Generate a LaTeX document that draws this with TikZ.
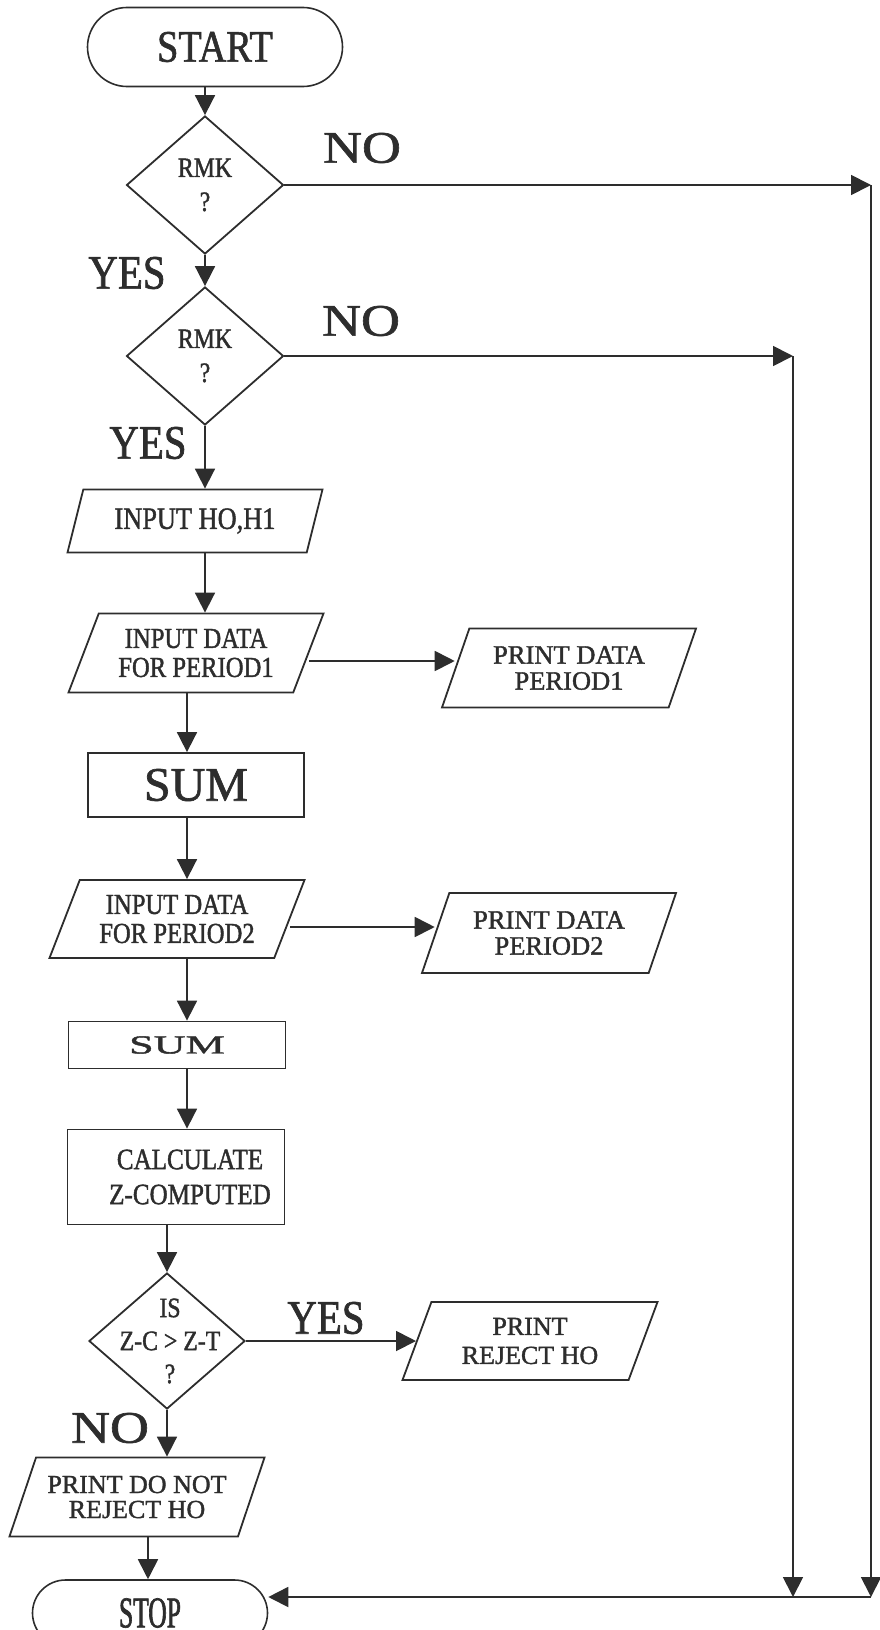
\documentclass[tikz,border=0pt]{standalone}
\usepackage{fontspec}
\setmainfont[FakeBold=1.2,AutoFakeBold=1.2]{Liberation Serif}
\newfontfamily\plainfont[FakeStretch=1.0,FakeBold=1.4]{Liberation Serif}
\newfontfamily\condfont[FakeStretch=0.85,FakeBold=1.4]{Liberation Serif}
\newfontfamily\tallfont[FakeStretch=0.58,FakeBold=1.4]{Liberation Serif}
\newfontfamily\widefont[FakeStretch=1.2,FakeBold=1.4]{Liberation Serif}
\newfontfamily\extfont[FakeStretch=1.7,FakeBold=1.6]{Liberation Serif}
\usetikzlibrary{shapes.geometric,shapes.misc,arrows.meta}
\definecolor{ink}{RGB}{45,45,45}
\tikzset{
  flow/.style={draw=ink,line width=1.8pt,-{Triangle[length=20pt,width=20pt]}},
  term/.style={rounded rectangle,draw=ink,line width=1.6pt,inner sep=0pt,text=ink},
  decide/.style={diamond,draw=ink,line width=1.8pt,inner sep=0pt,align=center,text=ink},
  io/.style={trapezium,trapezium left angle=58,trapezium right angle=122,
    trapezium stretches body,draw=ink,line width=1.8pt,inner sep=0pt,align=center,text=ink},
  proc/.style={rectangle,draw=ink,line width=1.8pt,inner sep=0pt,align=center,text=ink},
  lbl/.style={inner sep=0pt,text=ink},
}
\begin{document}
\begin{tikzpicture}[x=1pt,y=-1pt]
    \useasboundingbox (0,0) rectangle (880,1630);
    \clip (0,0) rectangle (880,1630);
    % columns of the main line
    \coordinate (colA) at (205,0);
    \coordinate (colB) at (187,0);
    \coordinate (colC) at (167,0);
    \coordinate (colD) at (148,0);
    \coordinate (rt1) at (871,1597);
    \coordinate (rt2) at (793,1597);

    \node[term,minimum width=255pt,minimum height=79pt,font=\condfont\fontsize{45}{48}\selectfont] (start) at (215,47) {START};
    \node[decide,minimum width=157pt,minimum height=138pt,font=\condfont\fontsize{28}{34}\selectfont] (d1) at (205,185) {RMK\\?};
    \node[decide,minimum width=157pt,minimum height=138pt,font=\condfont\fontsize{28}{34}\selectfont] (d2) at (205,356) {RMK\\?};
    \node[io,minimum width=255pt,minimum height=63pt,font=\condfont\fontsize{31}{32}\selectfont] (in0) at (195,521) {INPUT HO,H1};
    \node[io,minimum width=255pt,minimum height=79pt,font=\condfont\fontsize{29}{29}\selectfont] (in1) at (196,653) {INPUT DATA\\FOR PERIOD1};
    \node[io,minimum width=254pt,minimum height=79pt,font=\plainfont\fontsize{26.5}{26}\selectfont] (pr1) at (569,668) {PRINT DATA\\PERIOD1};
    \node[proc,minimum width=216pt,minimum height=64pt,font=\plainfont\fontsize{48}{50}\selectfont] (sum1) at (196,785) {SUM};
    \node[io,minimum width=255pt,minimum height=78pt,font=\condfont\fontsize{29}{29}\selectfont] (in2) at (177,919) {INPUT DATA\\FOR PERIOD2};
    \node[io,minimum width=254pt,minimum height=80pt,font=\plainfont\fontsize{26.5}{26}\selectfont] (pr2) at (549,933) {PRINT DATA\\PERIOD2};
    \node[proc,minimum width=217pt,minimum height=47pt,font=\extfont\fontsize{26}{28}\selectfont] (sum2) at (177,1045) {SUM};
    \node[proc,minimum width=217pt,minimum height=95pt] (calc) at (176,1177) {};
    \node[lbl,align=center,font=\condfont\fontsize{29.5}{35}\selectfont] (calctxt) at ([xshift=14pt]calc) {CALCULATE\\Z-COMPUTED};
    \node[decide,minimum width=156pt,minimum height=136pt] (d3) at (167,1341) {};
    \node[lbl,align=center,font=\condfont\fontsize{28}{33}\selectfont] (d3txt) at ([xshift=3pt]d3) {IS\\Z-C > Z-T\\?};
    \node[io,minimum width=255pt,minimum height=78pt,font=\plainfont\fontsize{26}{29}\selectfont] (pr3) at (530,1341) {PRINT\\REJECT HO};
    \node[io,minimum width=255pt,minimum height=79pt,font=\plainfont\fontsize{26}{25}\selectfont] (pr4) at (137,1497) {PRINT DO NOT\\REJECT HO};
    \node[term,minimum width=235pt,minimum height=66pt,font=\tallfont\fontsize{44}{48}\selectfont] (stop) at (150,1613) {STOP};

    % branch labels
    \node[lbl,font=\widefont\fontsize{45}{48}\selectfont] (no1) at (362,148) {NO};
    \node[lbl,font=\condfont\fontsize{48}{50}\selectfont] (yes1) at (127,273) {YES};
    \node[lbl,font=\widefont\fontsize{45}{48}\selectfont] (no2) at (361,321) {NO};
    \node[lbl,font=\condfont\fontsize{48}{50}\selectfont] (yes2) at (148,443) {YES};
    \node[lbl,font=\condfont\fontsize{48}{50}\selectfont] (yes3) at (326,1318) {YES};
    \node[lbl,font=\widefont\fontsize{45}{48}\selectfont] (no3) at (110,1428) {NO};

    % main line
    \draw[flow] (colA |- start.south) -- (d1.north);
    \draw[flow] (d1.south) -- (d2.north);
    \draw[flow] (d2.south) -- (colA |- in0.north);
    \draw[flow] (colA |- in0.south) -- (colA |- in1.north);
    \draw[flow] (colB |- in1.south) -- (colB |- sum1.north);
    \draw[flow] (colB |- sum1.south) -- (colB |- in2.north);
    \draw[flow] (colB |- in2.south) -- (colB |- sum2.north);
    \draw[flow] (colB |- sum2.south) -- (colB |- calc.north);
    \draw[flow] (colC |- calc.south) -- (d3.north);
    \draw[flow] (d3.south) -- (colC |- pr4.north);
    \draw[flow] (colD |- pr4.south) -- (colD |- stop.north);
    % side branches
    \draw[flow] ([yshift=-8pt]in1.east) -- ([yshift=-8pt]in1.east -| pr1.west);
    \draw[flow] ([yshift=-8pt]in2.east) -- ([yshift=-8pt]in2.east -| pr2.west);
    \draw[flow] (d3.east) -- (d3.east -| pr3.west);
    % NO branches to STOP
    \draw[flow] (d1.east) -- (d1.east -| rt1);
    \draw[flow] (d1.east -| rt1) -- (rt1);
    \draw[flow] (d2.east) -- (d2.east -| rt2);
    \draw[flow] (d2.east -| rt2) -- (rt2);
    \draw[flow] (rt1) -- (rt1 -| stop.east);
\end{tikzpicture}
\end{document}
